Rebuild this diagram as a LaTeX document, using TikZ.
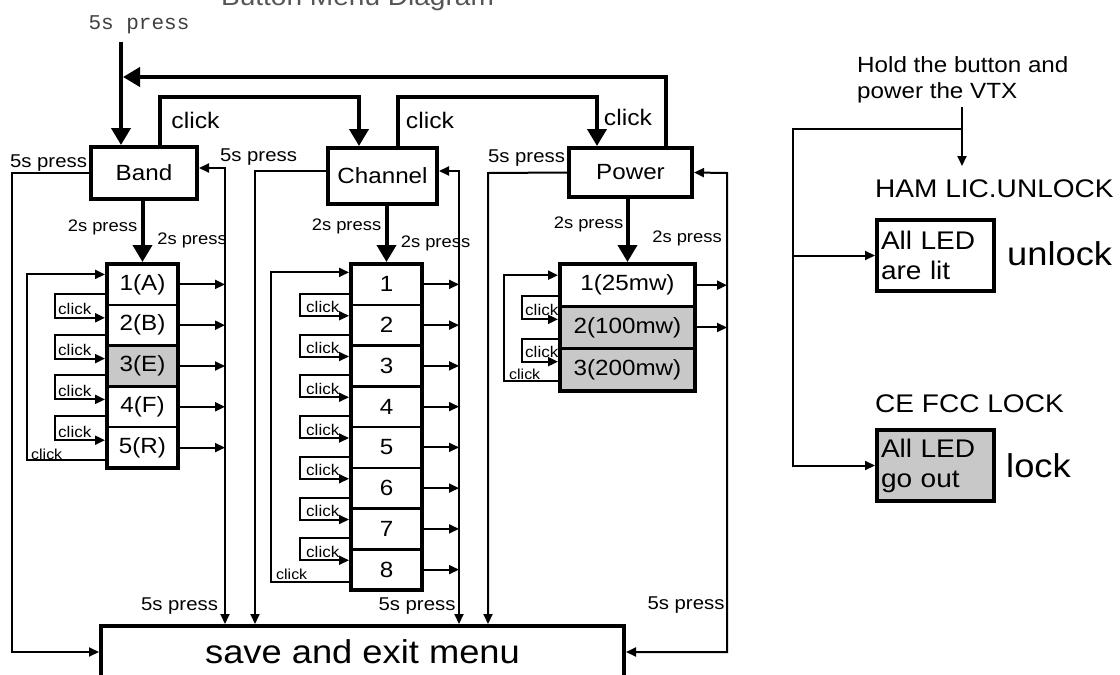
\documentclass[tikz,border=0pt]{standalone}
\usepackage{fontspec}
\setmainfont{Liberation Sans}[FakeStretch=1.1]
\newfontfamily\monofont{Liberation Mono}
\usetikzlibrary{arrows.meta,fit,calc}
\definecolor{cellgray}{RGB}{200,200,200}
\definecolor{titlegray}{RGB}{85,85,85}
\tikzset{
  boxnode/.style={draw, line width=4pt, fill=white, inner sep=0pt, font=\fontsize{22}{26}\selectfont},
  cellnode/.style={draw, line width=2.5pt, inner sep=0pt, outer sep=0pt, font=\fontsize{22}{26}\selectfont},
  listframe/.style={draw, line width=4pt, inner sep=0pt},
  thickarrow/.style={line width=4pt, -{Triangle[length=17pt,width=19pt]}},
  thinarrow/.style={line width=2pt, -{Triangle[length=10pt,width=9pt]}},
  thinboth/.style={line width=2pt, {Triangle[length=10pt,width=9pt]}-{Triangle[length=10pt,width=9pt]}},
  lblfive/.style={font=\fontsize{18.5}{22}\selectfont, inner sep=0pt},
  lbltwo/.style={font=\fontsize{16.7}{20}\selectfont, inner sep=0pt},
  clk/.style={font=\fontsize{15.5}{18}\selectfont, inner sep=0pt, anchor=base west},
  bigclk/.style={font=\fontsize{22.5}{26}\selectfont, inner sep=0pt},
  rtext/.style={font=\fontsize{25.5}{30}\selectfont, inner sep=0pt, anchor=base west},
}
\begin{document}
\begin{tikzpicture}[x=1pt,y=-1pt]
\useasboundingbox (0,0) rectangle (1120,675);

% title (cut off by the page edge) and start label
\node[font=\fontsize{25.5}{30}\selectfont, text=titlegray, anchor=base, inner sep=0pt] (title) at (357.5,5) {Button Menu Diagram};
\node[font=\monofont\fontsize{21}{24}\selectfont, text=black!75, inner sep=0pt] (topfive) at (139,25) {5s press};

% main boxes
\node[boxnode, minimum width=106pt, minimum height=52pt] (band) at (144,173) {Band};
\node[boxnode, minimum width=109pt, minimum height=56pt] (chan) at (382.5,176) {Channel};
\node[boxnode, minimum width=123pt, minimum height=49pt] (pow) at (630.5,172.5) {Power};
\node[boxnode, minimum width=523pt, minimum height=52pt, font=\fontsize{33}{36}\selectfont] (save) at (362.5,652) {save and exit menu};

% band list
\foreach \t/\f [count=\i] in {{1(A)}/white,{2(B)}/white,{3(E)}/cellgray,{4(F)}/white,{5(R)}/white}
  \node[cellnode, fill=\f, minimum width=71pt, minimum height=40.8pt] (b\i) at (142.5,{264+40.8*(\i-0.5)}) {\t};
\node[listframe, fit=(b1)(b5)] (blist) {};
% channel list
\foreach \i in {1,...,8}
  \node[cellnode, fill=white, minimum width=71pt, minimum height=40.75pt] (c\i) at (386.5,{264+40.75*(\i-0.5)}) {\i};
\node[listframe, fit=(c1)(c8)] (clist) {};
% power list
\foreach \t/\f [count=\i] in {{1(25mw)}/white,{2(100mw)}/cellgray,{3(200mw)}/cellgray}
  \node[cellnode, fill=\f, minimum width=135pt, minimum height=42.33pt] (p\i) at (627.5,{264+42.33*(\i-0.5)}) {\t};
\node[listframe, fit=(p1)(p3)] (plist) {};

% top connections
\coordinate (start) at (121,42);
\coordinate (jn) at (123,77);
\draw[thickarrow] (start) -- (start |- band.north);
\draw[thickarrow] ([xshift=16pt]band.north) -- ++(0,-48) -| ([xshift=-23.5pt]chan.north);
\draw[thickarrow] ([xshift=15.5pt]chan.north) -- ++(0,-49) -| ([xshift=-33.5pt]pow.north);
\draw[thickarrow] ([xshift=35.5pt]pow.north) -- ++(0,-69) -- (jn);
\node[bigclk] (clka) at (195.5,120) {click};
\node[bigclk] (clkb) at (430,120) {click};
\node[bigclk] (clkc) at (628,117) {click};

% 2s press arrows
\draw[thickarrow] (blist.north |- band.south) -- (blist.north);
\draw[thickarrow] (clist.north |- chan.south) -- (clist.north);
\draw[thickarrow] (plist.north |- pow.south) -- (plist.north);
\node[lbltwo] (tba) at (102.5,227) {2s press};
\node[lbltwo] (tbb) at (192,240) {2s press};
\node[lbltwo] (tca) at (346.5,226) {2s press};
\node[lbltwo] (tcb) at (435.5,243) {2s press};
\node[lbltwo] (tpa) at (588.5,224) {2s press};
\node[lbltwo] (tpb) at (687,238) {2s press};

% 5s press lanes
\coordinate (bR) at (225,168);
\coordinate (cL) at (255,171);
\coordinate (cR) at (459,171);
\coordinate (pL) at (488,173);
\coordinate (pR) at (727,173);
\draw[thinarrow] (band.west) -- ++(-77,0) |- (save.west);
\draw[thinboth] ([yshift=5pt]band.east) -- (bR) -- (bR |- save.north);
\draw[thinarrow] ([yshift=5pt]chan.west) -- (cL) -- (cL |- save.north);
\draw[thinboth] ([yshift=5pt]chan.east) -- (cR) -- (cR |- save.north);
\draw[thinarrow] (pow.west) -- (pL) -- (pL |- save.north);
\draw[thinboth] (pow.east) -- (pR) |- (save.east);
\node[lblfive] (fa) at (48.5,163) {5s press};
\node[lblfive] (fb) at (258.5,157) {5s press};
\node[lblfive] (fc) at (526.5,158) {5s press};
\node[lblfive] (fd) at (179.5,606) {5s press};
\node[lblfive] (fe) at (417,606) {5s press};
\node[lblfive] (ff) at (686,605) {5s press};

% item exits
\foreach \i in {1,...,5} \draw[thinarrow] (b\i.east) -- (b\i.east -| bR);
\foreach \i in {1,...,8} \draw[thinarrow] (c\i.east) -- (c\i.east -| cR);
\foreach \i in {1,2} \draw[thinarrow] (p\i.east) -- (p\i.east -| pR);

% band click loops
\foreach \i/\j in {1/2,2/3,3/4,4/5} {
  \draw[thinarrow] ($(b\i.south west)+(-2,-11)$) -- ++(-50,0) |- ($(b\j.north west)+(-2,13)$);
  \node[clk] (bk\i) at ($(b\j.north west)+(-49,10)$) {click};
}
\draw[thinarrow] ($(b5.west)+(-2,12)$) -- ++(-78,0) |- ($(b1.west)+(-2,-10)$);
\node[clk, font=\fontsize{14.5}{17}\selectfont] (bkl) at (31,459) {click};

% channel click loops
\foreach \i/\j in {1/2,2/3,3/4,4/5,5/6,6/7,7/8} {
  \draw[thinarrow] ($(c\i.south west)+(-2,-11)$) -- ++(-49,0) |- ($(c\j.north west)+(-2,11)$);
  \node[clk] (ck\i) at ($(c\j.north west)+(-45,8)$) {click};
}
\draw[thinarrow] ($(c8.west)+(-2,12)$) -- ++(-78,0) |- ($(c1.west)+(-2,-12)$);
\node[clk, font=\fontsize{14.5}{17}\selectfont] (ckl) at (276,579) {click};

% power click loops
\foreach \i/\j in {1/2,2/3} {
  \draw[thinarrow] ($(p\i.south west)+(-2,-10)$) -- ++(-36,0) |- ($(p\j.north west)+(-2,13)$);
  \node[clk] (pk\i) at ($(p\j.north west)+(-35,9)$) {click};
}
\draw[thinarrow] ($(p3.west)+(-2,11)$) -- ++(-54,0) |- ($(p1.west)+(-2,-10)$);
\node[clk, font=\fontsize{14.5}{17}\selectfont] (pkl) at (509,379) {click};

% right part
\node[font=\fontsize{22}{26}\selectfont, align=left, anchor=north west, inner sep=0pt] (hold) at (857,56) {Hold the button and\\power the VTX};
\coordinate (hv) at (962,107);
\coordinate (hvend) at (962,166);
\coordinate (jR) at (962,129);
\coordinate (jL) at (793,129);
\draw[thinarrow] (hv) -- (hvend);
\node[rtext] (ham) at (875,197) {HAM LIC.UNLOCK};
\node[rtext] (ce) at (875,412) {CE FCC LOCK};
\node[boxnode, minimum width=117pt, minimum height=71pt, font=\fontsize{25.5}{30}\selectfont, align=left, text width=109pt, inner sep=4pt] (unl) at (935.5,255.5) {All LED\\are lit};
\node[boxnode, fill=cellgray, minimum width=117pt, minimum height=71pt, font=\fontsize{25.5}{30}\selectfont, align=left, text width=109pt, inner sep=4pt] (lck) at (935.5,465.5) {All LED\\go out};
\draw[thinarrow] (jR) -- (jL) |- (lck.west);
\draw[thinarrow] (jL |- unl.west) -- (unl.west);
\node[font=\fontsize{33}{36}\selectfont, anchor=base west, inner sep=0pt] (unlk) at (1007,265) {unlock};
\node[font=\fontsize{33}{36}\selectfont, anchor=base west, inner sep=0pt] (lk) at (1006,477) {lock};
\end{tikzpicture}
\end{document}
